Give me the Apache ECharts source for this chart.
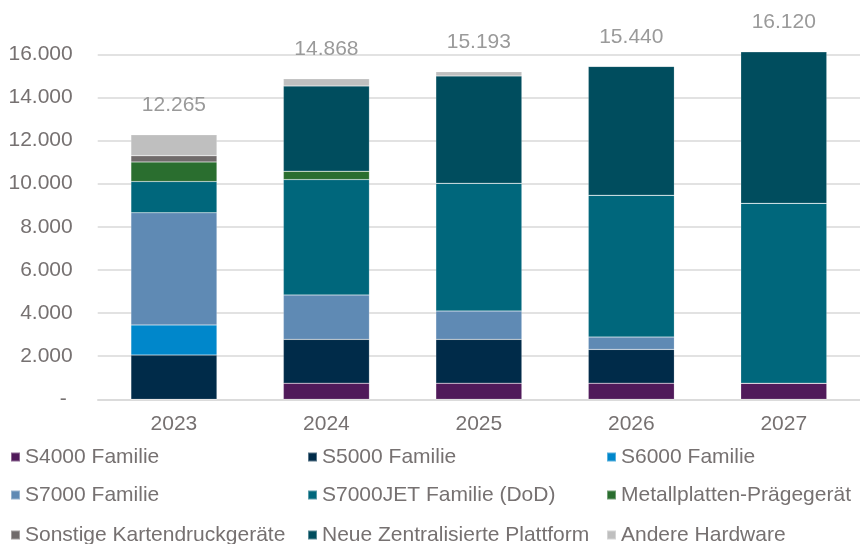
<!DOCTYPE html>
<html>
<head>
<meta charset="utf-8">
<script src="https://cdn.jsdelivr.net/npm/echarts@6/dist/echarts.min.js"></script>
<style>
  html, body { margin: 0; padding: 0; background: #fff; }
  #chart { width: 860px; height: 544px; }
</style>
</head>
<body>
<div id="chart"></div>
<script>
// Years on the x axis
const years = ['2023', '2024', '2025', '2026', '2027'];

// Segment values per product group (stacked bottom to top)
const s4000      = [0,    750,  750,  750,  750];
const s5000      = [2050, 2030, 2030, 1565, 0];
const s6000      = [1400, 0,    0,    0,    0];
const s7000      = [5200, 2060, 1315, 570,  0];
const s7000jet   = [1450, 5350, 5925, 6580, 8340];
const metall     = [910,  390,  0,    0,    0];
const sonstige   = [290,  0,    0,    0,    0];
const neue       = [0,    3950, 4975, 5975, 7030];
const andere     = [965,  338,  198,  0,    0];

// Y axis ticks
const yTicks = [0, 2000, 4000, 6000, 8000, 10000, 12000, 14000, 16000];

const groups = [
  { name: 'S4000 Familie',                 data: s4000,    color: '#501a5a' },
  { name: 'S5000 Familie',                 data: s5000,    color: '#002b49' },
  { name: 'S6000 Familie',                 data: s6000,    color: '#0087cb' },
  { name: 'S7000 Familie',                 data: s7000,    color: '#5f8ab4' },
  { name: 'S7000JET Familie (DoD)',        data: s7000jet, color: '#00677c' },
  { name: 'Metallplatten-Prägegerät',      data: metall,   color: '#2a6e2f' },
  { name: 'Sonstige Kartendruckgeräte',    data: sonstige, color: '#706b6b' },
  { name: 'Neue Zentralisierte Plattform', data: neue,     color: '#004d5e' },
  { name: 'Andere Hardware',               data: andere,   color: '#bfbfbf' }
];

const totals = years.map((_, i) => groups.reduce((s, g) => s + g.data[i], 0));

const fmt = v => String(v).replace(/\B(?=(\d{3})+(?!\d))/g, '.');

const FONT = "'Liberation Sans', Arial, sans-serif";
const TEXT = '#767171';

const series = groups.map(g => ({
  name: g.name,
  type: 'bar',
  stack: 'total',
  barWidth: 86,
  clip: false,
  data: g.data,
  itemStyle: { color: g.color, borderColor: 'rgba(255,255,255,0.35)', borderWidth: 0.5 },
  emphasis: { disabled: true }
}));

// Zero-height cap on each stack carries the total label
series.push({
  name: 'Summe',
  type: 'bar',
  stack: 'total',
  barWidth: 86,
  clip: false,
  data: totals.map(() => 0),
  itemStyle: { color: 'rgba(0,0,0,0)' },
  label: {
    show: true,
    position: 'top',
    distance: 19,
    color: '#9a9a9a',
    fontSize: 21,
    fontFamily: FONT,
    formatter: p => fmt(totals[p.dataIndex])
  },
  emphasis: { disabled: true }
});

// Legend laid out as a 3x3 grid: one entry per legend component
const colLeft = [10, 307, 606];
const rowTop = [446.5, 484.5, 524.5];
const legends = groups.map((g, i) => ({
  left: colLeft[i % 3],
  top: rowTop[Math.floor(i / 3)],
  padding: 0,
  itemWidth: 9,
  itemHeight: 9,
  icon: 'rect',
  selectedMode: false,
  textStyle: { color: TEXT, fontSize: 21, fontFamily: FONT, lineHeight: 21 },
  data: [g.name]
}));

const chart = echarts.init(document.getElementById('chart'), null, { renderer: 'canvas' });
chart.setOption({
  animation: false,
  backgroundColor: '#ffffff',
  grid: { left: 97.7, right: -5.7, top: 54.3, bottom: 144.7, containLabel: false },
  legend: legends,
  xAxis: {
    type: 'category',
    data: years,
    axisTick: { show: false },
    axisLine: { lineStyle: { color: '#d9d9d9', width: 1.5 } },
    axisLabel: { color: TEXT, fontSize: 21, fontFamily: FONT, margin: 14 }
  },
  yAxis: {
    type: 'value',
    min: yTicks[0],
    max: yTicks[yTicks.length - 1],
    interval: yTicks[1] - yTicks[0],
    axisLine: { show: false },
    axisTick: { show: false },
    splitLine: { lineStyle: { color: '#d9d9d9', width: 1.5 } },
    axisLabel: {
      color: TEXT, fontSize: 21, fontFamily: FONT, margin: 25,
      formatter: v => v === 0 ? '- ' : fmt(v)
    }
  },
  series: series
});
</script>
</body>
</html>
